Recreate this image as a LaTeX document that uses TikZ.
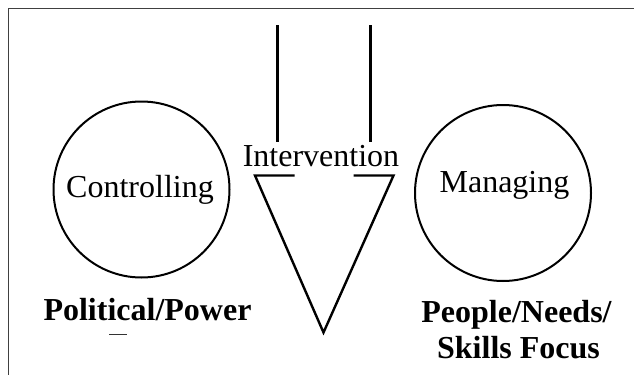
\documentclass[tikz,border=0pt]{standalone}
\usepackage{fontspec}
\setmainfont{Liberation Serif}
\begin{document}
\begin{tikzpicture}[x=1pt,y=-1pt,
  ring/.style={draw,line width=2pt,ellipse,minimum width=176pt,minimum height=175pt,inner sep=0pt},
  ring/.style={draw,line width=2pt,circle,minimum size=176pt,inner sep=0pt},
  lbl/.style={anchor=base,inner sep=0pt,font=\fontsize{32}{36}\selectfont},
  blbl/.style={anchor=base,inner sep=0pt,font=\fontsize{32}{36}\selectfont\bfseries},
  frame/.style={line width=1.6pt,draw=black!75},
  bar/.style={line width=3.5pt},
  tri/.style={line width=2.4pt,line join=miter}]
\useasboundingbox (0,0) rectangle (634,375);
% frame
\draw[frame] (634,8.5) -- (8.5,8.5) -- (8.5,375);
% circles
\node[ring] (ctrl) at (141.5,189.5) {};
\node[ring] (mng) at (503,193) {};
\node[lbl] (ctrltxt) at (140,197) {Controlling};
\node[lbl] (mngtxt) at (504.5,192) {Managing};
% intervention
\node[lbl] (int) at (321,166) {Intervention};
\coordinate (b1t) at (277.5,25);
\coordinate (b1b) at (277.5,142);
\coordinate (b2t) at (370.5,25);
\coordinate (b2b) at (370.5,142);
\draw[bar] (b1t) -- (b1b);
\draw[bar] (b2t) -- (b2b);
\coordinate (tl) at (255,175.5);
\coordinate (tli) at (294.5,175.5);
\coordinate (tr) at (393.5,175.5);
\coordinate (tri) at (353.5,175.5);
\coordinate (ap) at (323.5,332.5);
\draw[tri] (tli) -- (tl) -- (ap) -- (tr) -- (tri);
% bottom labels
\node[blbl] (pol) at (147.5,320) {Political/Power};
\coordinate (d1) at (109,334);
\coordinate (d2) at (127,334);
\draw[line width=0.8pt,black!80] (d1) -- (d2);
\node[blbl] (ppl) at (516.5,322) {People/Needs/};
\node[blbl] (skl) at (518.5,358) {Skills Focus};
\end{tikzpicture}
\end{document}
